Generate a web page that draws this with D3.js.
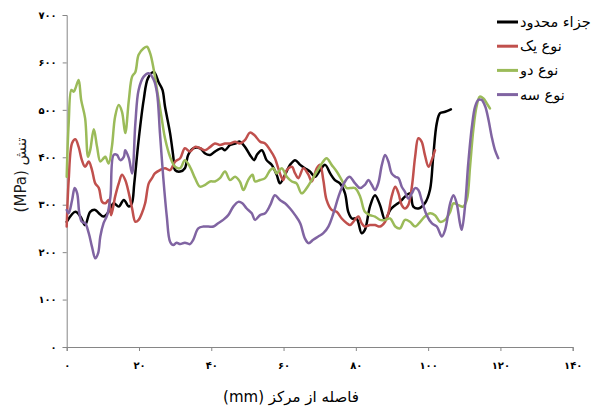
<!DOCTYPE html>
<html>
<head>
<meta charset="utf-8">
<script src="https://cdn.jsdelivr.net/npm/d3@7/dist/d3.min.js"></script>
<style>
  html, body { margin: 0; padding: 0; background: #fff; }
  svg { display: block; }
</style>
</head>
<body>
<svg id="chart" width="592" height="410"></svg>
<script>
// Stress along the distance from the centre, four cases
const seriesNames = ["جزاء محدود", "نوع یک", "نوع دو", "نوع سه"];
const seriesColors = ["#000000", "#c0504d", "#9bbb59", "#8064a2"];

const xTicks = [0, 20, 40, 60, 80, 100, 120, 140];
const xTickLabels = ["۰", "۲۰", "۴۰", "۶۰", "۸۰", "۱۰۰", "۱۲۰", "۱۴۰"];
const yTicks = [0, 100, 200, 300, 400, 500, 600, 700];
const yTickLabels = ["۰", "۱۰۰", "۲۰۰", "۳۰۰", "۴۰۰", "۵۰۰", "۶۰۰", "۷۰۰"];

const xTitle = "فاصله از مرکز (mm)";
const yTitle = "تنش (MPa)";

// [distance mm, stress MPa]
const finiteElement = [[0,264],[2.4,285],[3.8,275],[5.1,257],[6.5,285],[7.9,289],[8.9,282],[10.2,275],[11.6,285],[13,303],[14.4,296],[15.8,310],[17.2,296],[18,302],[18.7,345],[19.9,436],[21.3,521],[22.5,567],[24.1,580],[25.5,557],[26.5,542],[27.2,507],[28.6,451],[29.5,401],[30,373],[31.4,370],[32.7,377],[33.6,405],[35,419],[36.9,419],[38.3,408],[39.7,405],[41,412],[42.9,419],[43.8,415],[45.2,426],[46.6,429],[47.9,433],[49.3,422],[50.7,405],[51.9,394],[52.6,405],[54,415],[55.3,394],[56.7,384],[58.1,363],[59,345],[60.4,363],[61.8,384],[63.2,394],[64.6,384],[65.9,377],[67.3,370],[68.7,359],[70.1,373],[71.5,384],[72.9,366],[74.2,352],[75.6,345],[77,324],[77.9,285],[78.9,271],[80.2,271],[81.6,240],[82.5,247],[83.9,296],[85.3,320],[86.7,299],[88.1,268],[89.5,289],[90.9,299],[92.2,306],[93.6,317],[95,324],[95.9,296],[97.3,292],[99.1,303],[100.5,331],[101.4,401],[102.4,472],[103.3,493],[104.7,496],[106.3,501]];

const typeOne = [[0,254],[0.55,352],[1.5,430],[2.4,438],[3.3,422],[4.2,394],[5.1,380],[6.1,391],[7,373],[7.9,345],[8.9,335],[9.8,306],[10.7,303],[11.6,310],[12.3,278],[13.4,317],[14.4,345],[15.3,363],[16.2,352],[17.2,324],[18.1,292],[19,264],[19.9,268],[20.8,282],[21.7,303],[22.7,345],[23.6,356],[24.4,366],[25.8,373],[27.2,377],[28.6,373],[30,391],[31.4,398],[32.7,419],[34.1,412],[35.5,422],[36.9,419],[38.3,415],[39.7,422],[41,429],[42.4,426],[43.8,429],[45.2,429],[46.6,433],[47.9,429],[49.3,436],[50.7,452],[51.9,447],[53.5,433],[54.9,429],[56.3,415],[57.6,398],[59,366],[59.9,352],[60.9,373],[62.3,380],[63.2,366],[64.1,356],[65.5,377],[66.9,363],[67.8,349],[69.2,377],[70.1,384],[71,352],[71.9,310],[73.3,289],[74.7,285],[76.1,271],[77.5,261],[78.4,257],[79.3,264],[80.7,275],[81.6,261],[82.5,254],[83.9,257],[85.3,257],[86.7,254],[88.1,264],[89,282],[89.9,317],[90.9,338],[91.8,324],[92.7,299],[93.6,292],[94.5,299],[95.5,338],[96.4,401],[97.3,440],[98.2,433],[99.1,405],[100.1,380],[101,394],[101.9,415]];

const typeTwo = [[0,359],[0.55,472],[1.3,542],[1.9,538],[2.4,545],[3.3,563],[4,521],[5.1,482],[5.9,401],[6.5,415],[7.5,459],[8.4,422],[9.3,391],[10.2,398],[10.7,401],[11.6,387],[12.5,422],[13.4,486],[14.4,510],[15.3,496],[16.2,451],[17.2,521],[18.1,570],[19,580],[19.9,616],[21.3,630],[22.2,633],[23.1,619],[24.1,584],[25,542],[26.2,486],[27.2,440],[28.6,401],[30,380],[31.4,377],[32.7,394],[34.1,380],[35.5,356],[36.9,338],[38.3,342],[39.7,349],[41,349],[42.4,356],[43.8,370],[45.2,352],[46.6,359],[47.9,349],[48.9,331],[50.2,352],[51.4,363],[52.1,349],[53.5,352],[54.9,356],[56.3,373],[57.2,377],[58.1,366],[59.5,377],[60.9,359],[62.3,349],[63.6,345],[65,324],[66.4,335],[67.8,352],[69.2,370],[70.6,387],[71.9,398],[73.3,384],[74.7,370],[76.1,352],[77.5,335],[78.4,335],[79.8,335],[81.2,317],[82.5,285],[83.9,278],[85.3,275],[86.7,268],[88.1,268],[89.5,271],[90.9,254],[92.2,250],[93.6,268],[95,264],[96.4,254],[97.8,264],[99.1,275],[100.5,282],[101.9,278],[103.3,264],[104.7,268],[106.1,285],[107,303],[108.4,299],[109.7,296],[110.7,310],[111.6,380],[112.5,458],[113.4,507],[114.3,528],[115.3,524],[116.2,514],[117.1,503]];

const typeThree = [[0,289],[0.55,282],[1.5,310],[2.2,335],[2.9,324],[3.5,282],[4.2,264],[5.1,261],[6.1,240],[7,211],[7.9,187],[8.7,198],[9.3,233],[10.2,261],[11.2,278],[12.1,317],[13,405],[13.9,405],[14.8,394],[15.8,401],[16.2,415],[17.2,398],[18.1,366],[19,472],[19.9,542],[21.3,570],[22.7,577],[24.1,563],[25,535],[25.8,451],[26.7,359],[27.7,275],[28.6,222],[29.5,215],[30.4,220],[31.4,217],[32.7,220],[34.1,217],[35,226],[36.4,250],[37.8,254],[39.2,254],[40.6,254],[41.9,261],[43.3,268],[44.7,278],[46.1,296],[47.5,306],[48.6,303],[49.8,292],[51.2,282],[52.1,268],[53.5,278],[54.9,282],[56.3,299],[57.6,320],[59,310],[60.4,303],[61.8,292],[63.2,278],[64.6,261],[65.9,229],[66.9,219],[68.2,226],[69.6,233],[71,240],[72.4,254],[73.8,282],[75.2,317],[76.5,342],[78.2,359],[79.8,345],[81.2,335],[82.5,342],[83.5,352],[84.4,342],[85.3,331],[86.2,345],[87.2,384],[88.1,405],[89,391],[89.9,366],[90.9,359],[91.8,356],[92.7,338],[93.6,327],[94.5,313],[95.5,324],[96.4,335],[97.3,331],[98.2,310],[99.6,278],[101,261],[102.4,254],[103.8,233],[104.7,247],[106.1,303],[107,320],[107.9,303],[108.8,261],[109.3,247],[110.2,296],[111.1,387],[112.1,464],[113,507],[113.9,521],[114.8,521],[115.8,507],[116.7,479],[117.6,443],[118.5,415],[119.4,398]];

const allSeries = [finiteElement, typeOne, typeTwo, typeThree];

const svg = d3.select("#chart");
const plot = { left: 66.7, right: 572.7, top: 15, bottom: 347 };

const x = d3.scaleLinear().domain([0, 140]).range([plot.left, plot.right]);
const y = d3.scaleLinear().domain([0, 700]).range([plot.bottom, plot.top]);

const axisColor = "#868686";
const tickFont = "'DejaVu Sans', sans-serif";

// Y axis
const yAxis = svg.append("g")
  .attr("transform", `translate(${plot.left},0)`)
  .call(d3.axisLeft(y).tickValues(yTicks).tickSize(4).tickPadding(6)
    .tickFormat((d, i) => yTickLabels[i]));
yAxis.select(".domain").attr("stroke", axisColor);
yAxis.selectAll(".tick line").attr("stroke", axisColor);
yAxis.selectAll(".tick text")
  .attr("font-family", tickFont).attr("font-size", 10).attr("font-weight", "bold")
  .attr("fill", "#000");

// X axis
const xAxis = svg.append("g")
  .attr("transform", `translate(0,${plot.bottom})`)
  .call(d3.axisBottom(x).tickValues(xTicks).tickSize(4).tickPadding(11)
    .tickFormat((d, i) => xTickLabels[i]));
xAxis.select(".domain").attr("stroke", axisColor);
xAxis.selectAll(".tick line").attr("stroke", axisColor);
xAxis.selectAll(".tick text")
  .attr("font-family", tickFont).attr("font-size", 10).attr("font-weight", "bold")
  .attr("fill", "#000");

// Series lines
const line = d3.line()
  .x(d => x(d[0]))
  .y(d => y(d[1]))
  .curve(d3.curveCatmullRom.alpha(0.5));

svg.append("g").selectAll("path")
  .data(allSeries)
  .join("path")
  .attr("d", line)
  .attr("fill", "none")
  .attr("stroke", (d, i) => seriesColors[i])
  .attr("stroke-width", 2.5)
  .attr("stroke-linejoin", "round")
  .attr("stroke-linecap", "round");

// Axis titles
svg.append("text")
  .attr("x", 291).attr("y", 402)
  .attr("direction", "rtl")
  .attr("text-anchor", "middle")
  .attr("font-family", tickFont)
  .attr("font-size", 15)
  .attr("fill", "#000")
  .text(xTitle);

svg.append("text")
  .attr("transform", "translate(26,175) rotate(-90)")
  .attr("direction", "rtl")
  .attr("text-anchor", "middle")
  .attr("font-family", tickFont)
  .attr("font-size", 15)
  .attr("fill", "#1a1a1a")
  .text(yTitle);

// Legend
const legend = svg.append("g").selectAll("g")
  .data(seriesNames)
  .join("g")
  .attr("transform", (d, i) => `translate(497,${22 + i * 24.2})`);
legend.append("line")
  .attr("x1", 0).attr("x2", 21).attr("y1", 0).attr("y2", 0)
  .attr("stroke", (d, i) => seriesColors[i])
  .attr("stroke-width", 3);
legend.append("text")
  .attr("x", 23).attr("y", 0)
  .attr("dy", "0.35em")
  .attr("font-family", tickFont)
  .attr("font-size", 14.5)
  .attr("fill", "#000")
  .text(d => d);
</script>
</body>
</html>
